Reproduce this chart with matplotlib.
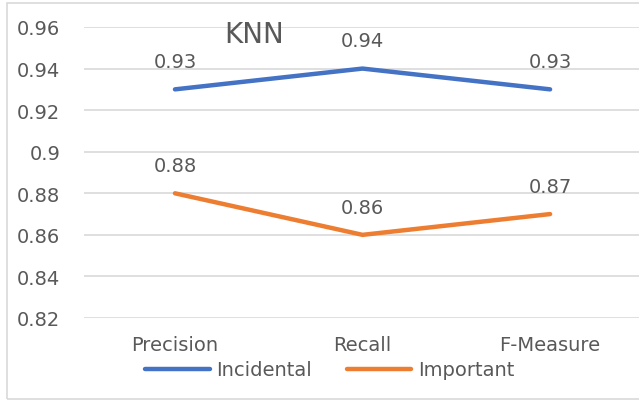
import matplotlib
matplotlib.use("Agg")
import matplotlib.pyplot as plt
from matplotlib.patches import Rectangle

categories = ["Precision", "Recall", "F-Measure"]
incidental = [0.93, 0.94, 0.93]
important = [0.88, 0.86, 0.87]
y_ticks = [0.82, 0.84, 0.86, 0.88, 0.90, 0.92, 0.94, 0.96]
y_tick_labels = ["0.82", "0.84", "0.86", "0.88", "0.9", "0.92", "0.94", "0.96"]

W, H = 639, 402
plt.rcParams["font.family"] = ["DejaVu Sans"]
TXT = "#595959"
GRID = "#d9d9d9"
BLUE = "#4472C4"
ORANGE = "#ED7D31"
FS = 14

fig = plt.figure(figsize=(W / 100, H / 100), dpi=100)
fig.patch.set_facecolor("white")

# chart frame
fig.patches.append(Rectangle((7 / W, 1 - 400 / H), (660 - 7) / W, (400 - 4) / H,
                             transform=fig.transFigure, fill=False,
                             edgecolor=GRID, linewidth=1.2))

left, right, top, bottom = 84, 642, 28, 319
ax = fig.add_axes([left / W, 1 - bottom / H, (right - left) / W, (bottom - top) / H])
x = list(range(len(categories)))
ax.plot(x, incidental, color=BLUE, lw=3.2, solid_capstyle="round", label="Incidental", zorder=3)
ax.plot(x, important, color=ORANGE, lw=3.2, solid_capstyle="round", label="Important", zorder=3)

for series in (incidental, important):
    for xi, v in zip(x, series):
        ax.annotate(f"{v:.2f}", (xi, v), xytext=(0, 20), textcoords="offset points",
                    ha="center", va="center", color=TXT, fontsize=FS)

ax.set_xlim(-0.485, 2.49)
ax.set_ylim(0.82, 0.96)
ax.set_yticks(y_ticks)
ax.set_yticklabels(y_tick_labels)
ax.set_xticks(x)
ax.set_xticklabels(categories)
ax.tick_params(axis="both", length=0, colors=TXT, labelsize=FS)
ax.tick_params(axis="y", pad=17)
ax.tick_params(axis="x", pad=12)
ax.grid(axis="y", color=GRID, linewidth=1.2)
ax.set_axisbelow(True)
for s in ax.spines.values():
    s.set_visible(False)

fig.text(254 / W, 1 - 35 / H, "KNN", ha="center", va="center", color=TXT, fontsize=20)

fig.legend(loc="center", bbox_to_anchor=(330 / W, 1 - 371 / H), ncol=2, frameon=False,
           fontsize=FS, labelcolor=TXT, handlelength=3.3, handletextpad=0.35,
           columnspacing=1.8, borderpad=0)

fig.savefig("out.png", dpi=100, facecolor="white")
